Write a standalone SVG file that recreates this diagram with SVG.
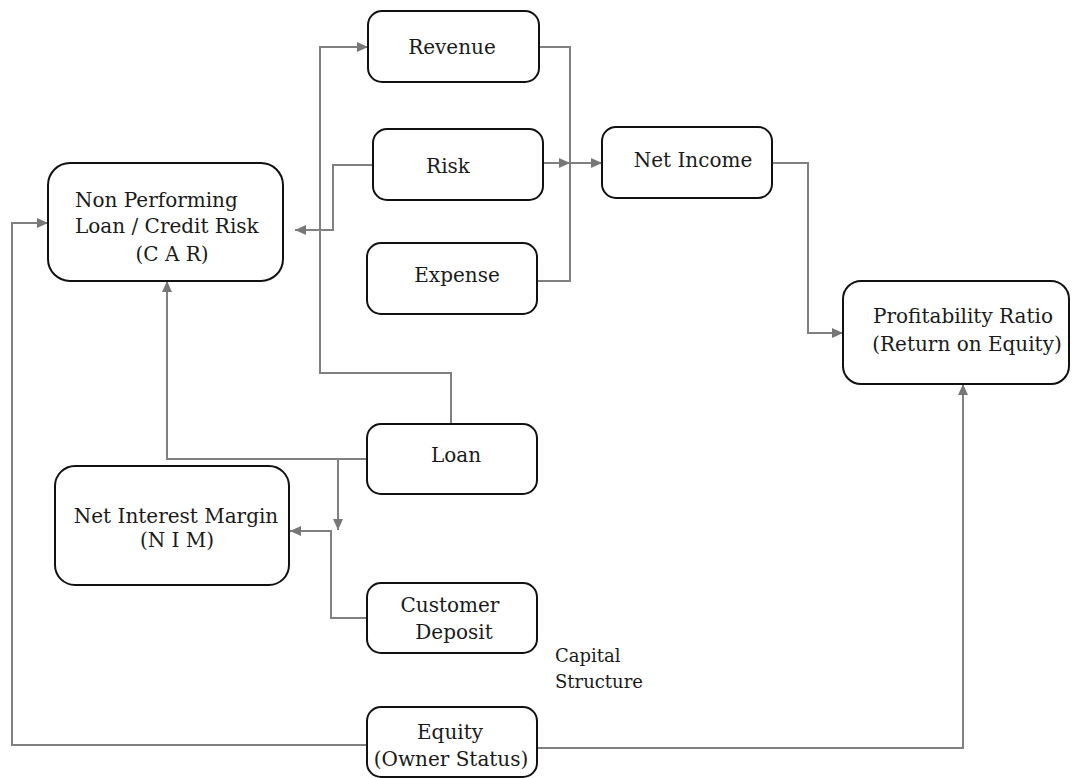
<svg xmlns="http://www.w3.org/2000/svg" width="1073" height="778" viewBox="0 0 1073 778">
<style>
.box{fill:#fff;stroke:#111;stroke-width:2}
.t{font-family:"DejaVu Serif","Liberation Serif",serif;font-size:20px;fill:#1a1a1a;text-anchor:middle}
.ts{text-anchor:start}
.c{fill:none;stroke:#808080;stroke-width:2}
</style>
<defs>
<marker id="ah" markerUnits="userSpaceOnUse" markerWidth="12" markerHeight="10" refX="11" refY="5" orient="auto">
<path d="M0,0 L11,5 L0,10 z" fill="#777"/>
</marker>
</defs>
<rect width="1073" height="778" fill="#fff"/>
<g id="connectors">
<path class="c" d="M451,424 V373 H320 V47 H368" marker-end="url(#ah)"/>
<path class="c" d="M539,47 H570 V281 H537"/>
<path class="c" d="M543,163 H570" marker-end="url(#ah)"/>
<path class="c" d="M570,163 H602" marker-end="url(#ah)"/>
<path class="c" d="M373,165 H333 V230 H295" marker-end="url(#ah)"/>
<path class="c" d="M772,163 H808 V333 H843" marker-end="url(#ah)"/>
<path class="c" d="M367,459 H167 V281" marker-end="url(#ah)"/>
<path class="c" d="M338,459 V530" marker-end="url(#ah)"/>
<path class="c" d="M367,618 H331 V531 H290" marker-end="url(#ah)"/>
<path class="c" d="M367,745 H12 V223 H48" marker-end="url(#ah)"/>
<path class="c" d="M537,748 H963 V384" marker-end="url(#ah)"/>
</g>
<g id="revenue"><rect class="box" x="368" y="11" width="171" height="71" rx="14"/><text class="t" x="452" y="54">Revenue</text></g>
<g id="risk"><rect class="box" x="373" y="129" width="170" height="71" rx="14"/><text class="t" x="448" y="173">Risk</text></g>
<g id="net-income"><rect class="box" x="602" y="127" width="170" height="71" rx="14"/><text class="t" x="693" y="167">Net Income</text></g>
<g id="npl"><rect class="box" x="48" y="163" width="235" height="118" rx="22"/><text class="t ts" x="75" y="207">Non Performing</text><text class="t ts" x="75" y="233">Loan / Credit Risk</text><text class="t" x="172" y="261">(C A R)</text></g>
<g id="expense"><rect class="box" x="367" y="243" width="170" height="71" rx="14"/><text class="t" x="457" y="282">Expense</text></g>
<g id="profitability"><rect class="box" x="843" y="281" width="226" height="103" rx="18"/><text class="t" x="963" y="323">Profitability Ratio</text><text class="t" x="967" y="351">(Return on Equity)</text></g>
<g id="loan"><rect class="box" x="367" y="424" width="170" height="70" rx="14"/><text class="t" x="456" y="462">Loan</text></g>
<g id="nim"><rect class="box" x="55" y="466" width="234" height="119" rx="20"/><text class="t" x="176" y="523">Net Interest Margin</text><text class="t" x="177" y="547">(N I M)</text></g>
<g id="customer-deposit"><rect class="box" x="367" y="583" width="170" height="70" rx="14"/><text class="t" x="450" y="612">Customer</text><text class="t" x="454" y="639">Deposit</text></g>
<g id="capital-structure"><text class="t ts" x="555" y="662" style="font-size:18px">Capital</text><text class="t ts" x="555" y="688" style="font-size:18px">Structure</text></g>
<g id="equity"><rect class="box" x="367" y="707" width="170" height="70" rx="14"/><text class="t" x="450" y="739">Equity</text><text class="t" x="451" y="766">(Owner Status)</text></g>
</svg>
